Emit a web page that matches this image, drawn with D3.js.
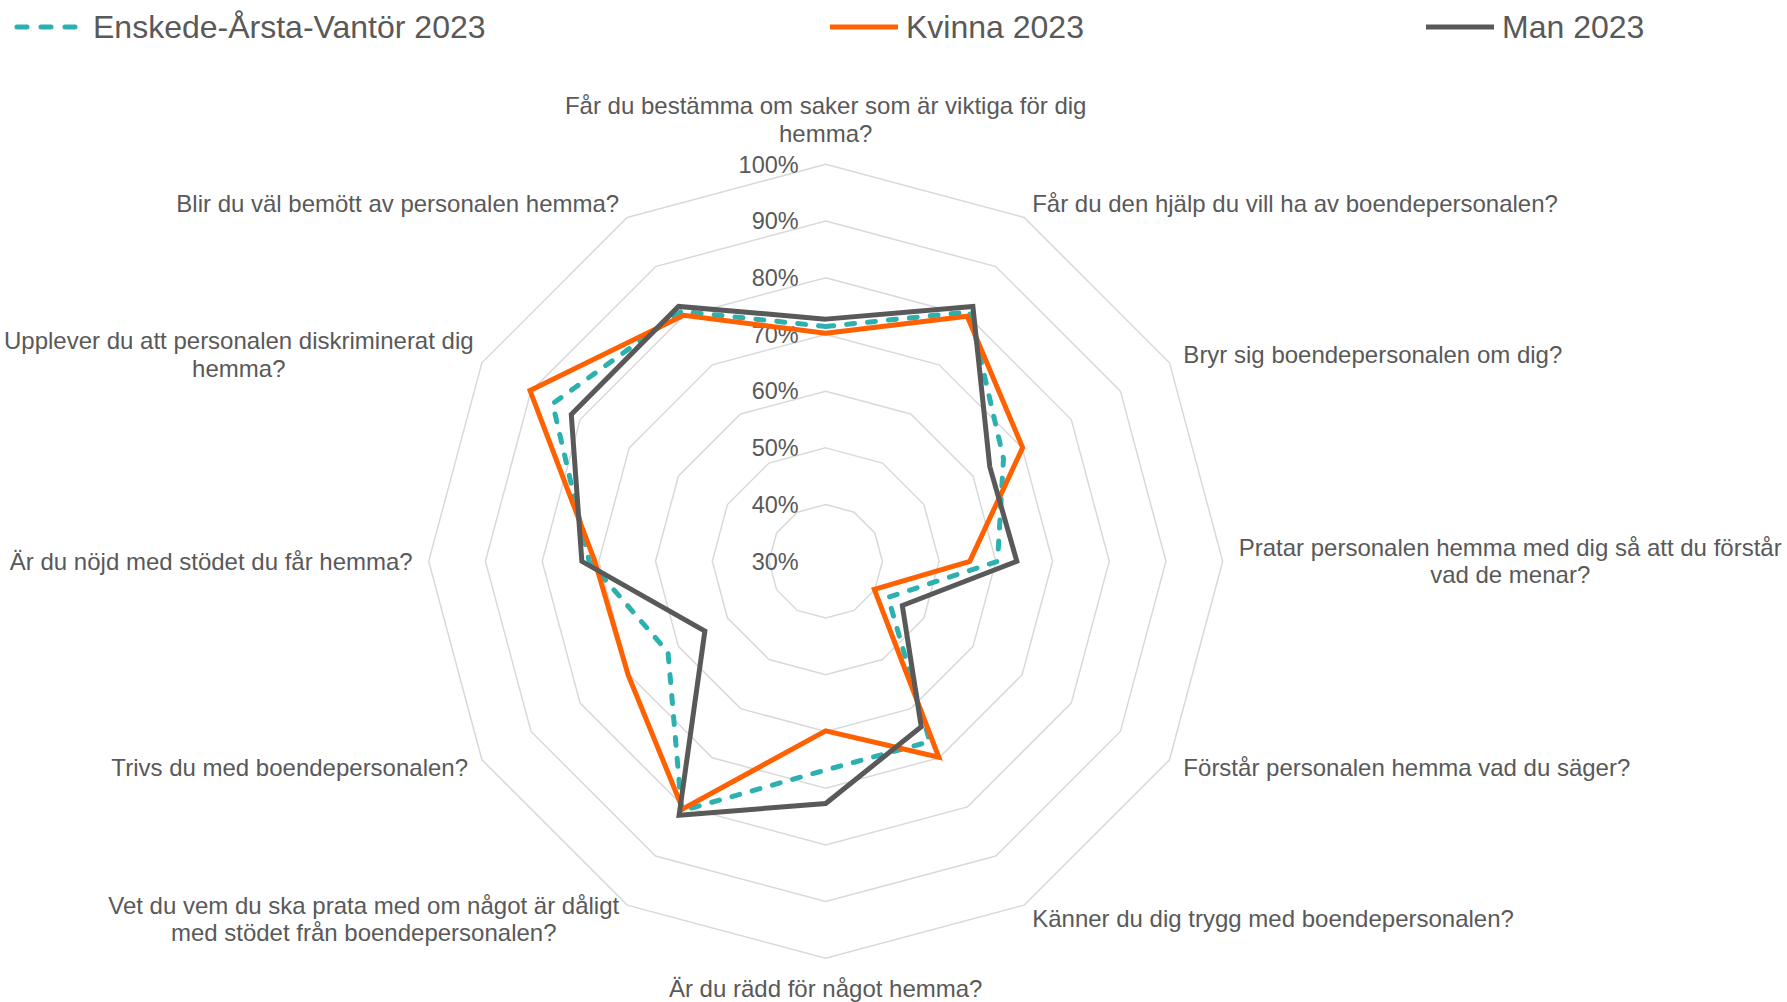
<!DOCTYPE html>
<html lang="sv">
<head>
    <meta charset="utf-8">
    <title>Radar - Enskede-Årsta-Vantör 2023</title>
    <script src="https://d3js.org/d3.v7.min.js"></script>
    <style>
        body { margin: 0; background: #fff; }
        text { font-family: "Liberation Sans", Arial, sans-serif; fill: #595959; }
    </style>
</head>
<body>
    <script>
        // categories, clockwise from the top
        var questions = [
            ["Får du bestämma om saker som är viktiga för dig", "hemma?"],
            ["Får du den hjälp du vill ha av boendepersonalen?"],
            ["Bryr sig boendepersonalen om dig?"],
            ["Pratar personalen hemma med dig så att du förstår", "vad de menar?"],
            ["Förstår personalen hemma vad du säger?"],
            ["Känner du dig trygg med boendepersonalen?"],
            ["Är du rädd för något hemma?"],
            ["Vet du vem du ska prata med om något är dåligt", "med stödet från boendepersonalen?"],
            ["Trivs du med boendepersonalen?"],
            ["Är du nöjd med stödet du får hemma?"],
            ["Upplever du att personalen diskriminerat dig", "hemma?"],
            ["Blir du väl bemött av personalen hemma?"]
        ];

        // series values (share, 0-1)
        var enskede = [0.714, 0.808, 0.662, 0.603, 0.427, 0.667, 0.668, 0.808, 0.621, 0.717, 0.856, 0.809];
        var kvinna  = [0.702, 0.799, 0.701, 0.554, 0.399, 0.699, 0.599, 0.804, 0.702, 0.707, 0.902, 0.801];
        var man     = [0.727, 0.819, 0.634, 0.637, 0.456, 0.637, 0.727, 0.817, 0.546, 0.730, 0.818, 0.819];

        var seriesNames = ["Enskede-Årsta-Vantör 2023", "Kvinna 2023", "Man 2023"];
        var tickValues = [0.3, 0.4, 0.5, 0.6, 0.7, 0.8, 0.9, 1.0];

        var width = 1787, height = 1002;
        var cx = 825.7, cy = 561.3;

        var svg = d3.select("body")
            .append("svg")
            .attr("width", width)
            .attr("height", height);

        var r = d3.scaleLinear().domain([0.3, 1.0]).range([0, 397]);
        var angle = d3.scalePoint()
            .domain(d3.range(questions.length))
            .range([0, 2 * Math.PI * (questions.length - 1) / questions.length]);

        var g = svg.append("g").attr("transform", "translate(" + cx + "," + cy + ")");

        // grid rings (30% is the centre)
        var ring = d3.lineRadial()
            .angle(function(d, i) { return angle(i); })
            .radius(function(d) { return r(d); })
            .curve(d3.curveLinearClosed);

        g.selectAll(".ring")
            .data(tickValues.slice(1))
            .join("path")
            .attr("class", "ring")
            .attr("d", function(t) { return ring(questions.map(function() { return t; })); })
            .attr("fill", "none")
            .attr("stroke", "#d9d9d9")
            .attr("stroke-width", 1.5);

        // tick labels along the top axis
        g.selectAll(".tick")
            .data(tickValues)
            .join("text")
            .attr("class", "tick")
            .attr("x", -27)
            .attr("y", function(d) { return -r(d); })
            .attr("dy", "0.35em")
            .attr("text-anchor", "end")
            .style("font-size", "23.5px")
            .text(function(d) { return d3.format(".0%")(d); });

        // series
        var series = [
            { name: seriesNames[0], values: enskede, color: "#2cb0b0", dash: "8 13" },
            { name: seriesNames[1], values: kvinna,  color: "#ff6000", dash: null },
            { name: seriesNames[2], values: man,     color: "#595959", dash: null }
        ];

        var line = d3.lineRadial()
            .angle(function(d, i) { return angle(i); })
            .radius(function(d) { return r(d); })
            .curve(d3.curveLinearClosed);

        g.selectAll(".series")
            .data(series)
            .join("path")
            .attr("class", "series")
            .attr("d", function(s) { return line(s.values); })
            .attr("fill", "none")
            .attr("stroke", function(s) { return s.color; })
            .attr("stroke-width", 5)
            .attr("stroke-linejoin", "miter")
            .attr("stroke-linecap", function(s) { return s.dash ? "round" : "butt"; })
            .attr("stroke-dasharray", function(s) { return s.dash; });

        // category labels around the outside
        var lineH = 27.5;
        var labels = g.selectAll(".cat")
            .data(questions)
            .join("text")
            .attr("class", "cat")
            .style("font-size", "24px")
            .attr("text-anchor", "middle");

        labels.each(function(lines, i) {
            var t = d3.select(this);
            lines.forEach(function(s, k) {
                t.append("tspan").attr("x", 0).attr("y", k * lineH).attr("dy", "0.35em").text(s);
            });
            var w = d3.max(t.selectAll("tspan").nodes(), function(n) { return n.getComputedTextLength(); });
            var a = angle(i), sx = Math.sin(a), sy = -Math.cos(a);
            var px = (r(1.0) + 16) * sx, py = (r(1.0) + 16) * sy;
            var blockH = (lines.length - 1) * lineH;
            var x, y;
            if (Math.abs(sx) < 0.1) {
                x = px;
                // top label sits above the ring, bottom one below
                y = sy < 0 ? py - 15 - blockH : py + 14;
            } else {
                x = sx > 0 ? px + w / 2 : px - w / 2;
                y = py - blockH / 2;
            }
            // keep the block inside the page
            x = Math.max(x, 4 - cx + w / 2);
            x = Math.min(x, width - 4 - cx - w / 2);
            t.attr("transform", "translate(" + x + "," + y + ")");
        });

        // legend
        var legendX = [17, 830, 1426];
        var legend = svg.selectAll(".legend")
            .data(series)
            .join("g")
            .attr("class", "legend")
            .attr("transform", function(d, i) { return "translate(" + legendX[i] + ",27)"; });

        legend.append("line")
            .attr("x1", 0).attr("x2", 68)
            .attr("stroke", function(s) { return s.color; })
            .attr("stroke-width", 5)
            .attr("stroke-linecap", function(s) { return s.dash ? "round" : "butt"; })
            .attr("stroke-dasharray", function(s) { return s.dash ? "10 14" : null; });

        legend.append("text")
            .attr("x", 76)
            .attr("dy", "0.35em")
            .style("font-size", "32px")
            .text(function(s) { return s.name; });
    </script>
</body>
</html>
